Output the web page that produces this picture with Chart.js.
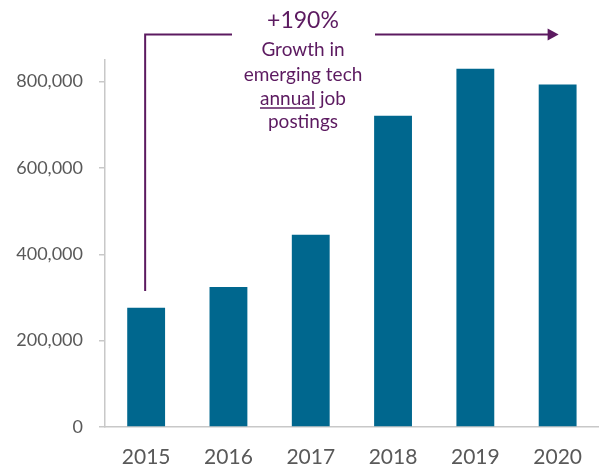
<!DOCTYPE html>
<html>
<head>
<meta charset="utf-8">
<script src="https://cdn.jsdelivr.net/npm/chart.js@4"></script>
<style>
  html, body { margin: 0; padding: 0; background: #fff; }
  #wrap { width: 600px; height: 468px; }
</style>
</head>
<body>
<div id="wrap"><canvas id="jobsChart"></canvas></div>
<script>
// Emerging tech annual job postings
const years = ['2015', '2016', '2017', '2018', '2019', '2020'];
const postings = [276000, 324000, 445000, 721000, 830000, 793000];
const yTicks = [0, 200000, 400000, 600000, 800000];

const barColor = '#00678e';
const purple = '#5c1a60';
const axisColor = '#c8c8c8';
const labelColor = '#595959';
const fontFamily = 'Lato, "Open Sans", sans-serif';

// Draws the bracket arrow and growth callout
const growthCallout = {
    id: 'growthCallout',
    afterDraw(chart) {
        const ctx = chart.ctx;
        const x = chart.scales.x;
        const y = chart.scales.y;

        const left = x.getPixelForValue(0) - 1;
        const right = x.getPixelForValue(5) + 1;
        const bottom = y.getPixelForValue(315000);
        const top = 34.5;
        const cx = 303;

        ctx.save();
        ctx.strokeStyle = purple;
        ctx.fillStyle = purple;
        ctx.lineWidth = 2;

        ctx.beginPath();
        ctx.moveTo(left, bottom);
        ctx.lineTo(left, top);
        ctx.lineTo(cx - 71, top);
        ctx.stroke();

        ctx.beginPath();
        ctx.moveTo(cx + 72, top);
        ctx.lineTo(right - 10, top);
        ctx.stroke();

        // arrow head
        ctx.beginPath();
        ctx.moveTo(right, top);
        ctx.lineTo(right - 11, top - 6);
        ctx.lineTo(right - 11, top + 6);
        ctx.closePath();
        ctx.fill();

        ctx.textAlign = 'center';
        ctx.textBaseline = 'middle';
        ctx.font = '23px ' + fontFamily;
        ctx.fillText('+190%', cx, 21);

        ctx.font = '19px ' + fontFamily;
        ctx.fillText('Growth in', cx, 50);
        ctx.fillText('emerging tech', cx, 75);

        // "annual job" with "annual" underlined
        const w1 = ctx.measureText('annual').width;
        const wAll = ctx.measureText('annual job').width;
        const start = cx - wAll / 2;
        ctx.textAlign = 'left';
        ctx.fillText('annual job', start, 99);
        ctx.lineWidth = 1.5;
        ctx.beginPath();
        ctx.moveTo(start, 108);
        ctx.lineTo(start + w1, 108);
        ctx.stroke();

        ctx.textAlign = 'center';
        ctx.fillText('postings', cx, 122);
        ctx.restore();
    }
};

const ctx = document.getElementById('jobsChart').getContext('2d');
new Chart(ctx, {
    type: 'bar',
    data: {
        labels: years,
        datasets: [{
            label: 'Job postings',
            data: postings,
            backgroundColor: barColor,
            categoryPercentage: 1,
            barPercentage: 0.46
        }]
    },
    options: {
        responsive: true,
        maintainAspectRatio: false,
        animation: false,
        layout: { padding: { top: 60, right: 0, left: 0, bottom: 0 } },
        plugins: {
            legend: { display: false },
            tooltip: { enabled: false }
        },
        scales: {
            x: {
                grid: { display: false, drawTicks: false },
                border: { display: true, color: axisColor, width: 1.5 },
                ticks: {
                    color: labelColor,
                    font: { family: fontFamily, size: 21 },
                    padding: 18,
                    maxRotation: 0
                },
                afterFit(scale) { scale.height = 41; }
            },
            y: {
                min: 0,
                max: 850000,
                grid: {
                    drawOnChartArea: false,
                    drawTicks: true,
                    tickLength: 6,
                    color: axisColor,
                    lineWidth: 1.5
                },
                border: { display: true, color: axisColor, width: 1.5 },
                ticks: {
                    color: labelColor,
                    font: { family: fontFamily, size: 18 },
                    padding: 16,
                    callback: (v) => v.toLocaleString('en-US')
                },
                afterBuildTicks(scale) {
                    scale.ticks = yTicks.map(v => ({ value: v }));
                },
                afterFit(scale) { scale.width = 105; }
            }
        }
    },
    plugins: [growthCallout]
});
</script>
</body>
</html>
